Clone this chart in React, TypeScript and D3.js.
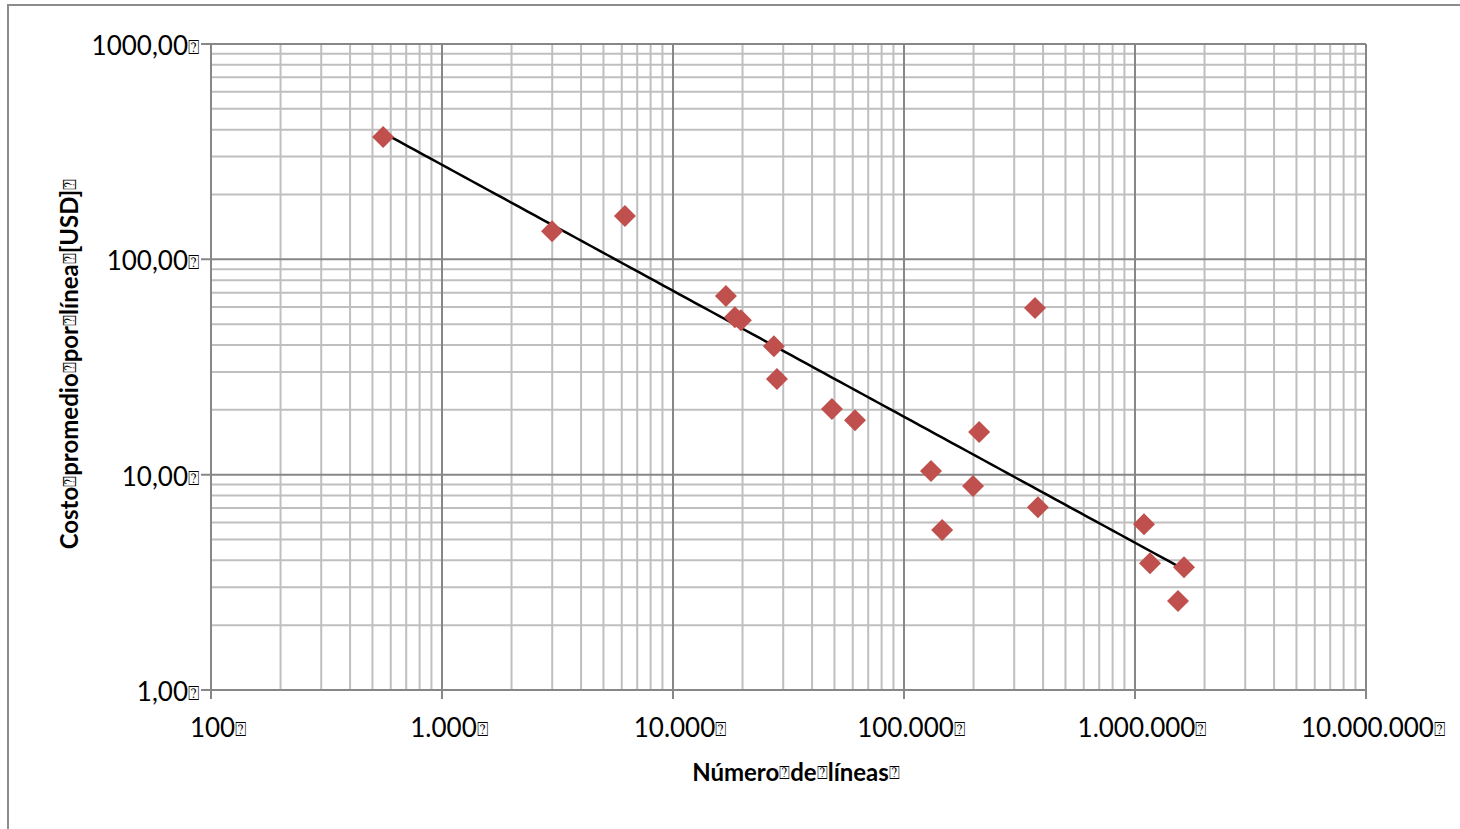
import React, { useEffect } from "react";
import * as d3 from "d3";

// ---- data ----
const lineCounts = [556, 2995, 6194, 16950, 18530, 19670, 27330, 28180, 48750, 61360, 130900, 146200, 199000, 211500, 369000, 380000, 1094000, 1161000, 1535000, 1630000];
const avgCost = [370, 135, 159, 67.6, 53.9, 52.2, 39.5, 27.8, 20.2, 17.9, 10.4, 5.53, 8.85, 15.8, 59.5, 7.06, 5.89, 3.88, 2.59, 3.72];
// power trend line y = a * x^b
const trendCoef = 15630;
const trendExp = -0.585;
const xTickValues = [100, 1000, 10000, 100000, 1000000, 10000000];
const yTickValues = [1, 10, 100, 1000];
const BOX = "\u2370";
const xTitleWords = ["Número", "de", "líneas"];
const yTitleWords = ["Costo", "promedio", "por", "línea", "[USD]"];

const W = 1460, H = 829;
const M = { left: 211, right: 1366, top: 44, bottom: 690 };
const FONT = "Lato, 'Open Sans', sans-serif";

const locale = d3.formatLocale({ decimal: ",", thousands: ".", grouping: [3], currency: ["", ""] });
const fmtX = locale.format(",d");
const fmtY = locale.format(".2f");

function Box({ size, dy }: { size: number; dy: number }) {
  return (
    <tspan fontFamily="'DejaVu Sans'" fontWeight="normal" fontSize={size} dy={dy}>
      {BOX}
    </tspan>
  );
}

export default function App() {
  useEffect(() => {
    document.body.style.margin = "0";
  }, []);

  const x = d3.scaleLog().domain([100, 10000000]).range([M.left, M.right]);
  const y = d3.scaleLog().domain([1, 1000]).range([M.bottom, M.top]);

  const minorX: number[] = [];
  for (let k = 2; k < 7; k++) for (let m = 2; m <= 9; m++) minorX.push(m * Math.pow(10, k));
  const minorY: number[] = [];
  for (let k = 0; k < 3; k++) for (let m = 2; m <= 9; m++) minorY.push(m * Math.pow(10, k));

  const xMin = d3.min(lineCounts) as number;
  const xMax = d3.max(lineCounts) as number;
  const trendPts: [number, number][] = d3.range(0, 101).map((i) => {
    const lv = Math.log10(xMin) + (i / 100) * (Math.log10(xMax) - Math.log10(xMin));
    const xv = Math.pow(10, lv);
    return [xv, trendCoef * Math.pow(xv, trendExp)];
  });
  const trendLine = d3.line<[number, number]>().x((d) => x(d[0])).y((d) => y(d[1]))(trendPts) || "";

  const diamond = (cx: number, cy: number, r: number) => `M${cx},${cy - r}L${cx + r},${cy}L${cx},${cy + r}L${cx - r},${cy}Z`;

  const minorColor = "#bfbfbf";
  const majorColor = "#878787";

  const titleParts = (words: string[], keyPrefix: string) =>
    words.map((w, i) => (
      <React.Fragment key={keyPrefix + i}>
        <tspan dy={i === 0 ? 0 : 2}>{w}</tspan>
        <Box size={18} dy={-2} />
      </React.Fragment>
    ));

  return (
    <svg width={W} height={H} style={{ display: "block", background: "#fff" }}>
      <rect x={8} y={5} width={1600} height={1000} fill="#fff" stroke="#8c8c8c" strokeWidth={2} />
      {/* minor gridlines */}
      {minorX.map((v, i) => (
        <line key={"mx" + i} x1={x(v)} x2={x(v)} y1={M.top} y2={M.bottom} stroke={minorColor} strokeWidth={2} />
      ))}
      {minorY.map((v, i) => (
        <line key={"my" + i} x1={M.left} x2={M.right} y1={y(v)} y2={y(v)} stroke={minorColor} strokeWidth={2} />
      ))}
      {/* major gridlines + ticks */}
      {xTickValues.map((v, i) => (
        <line key={"Mx" + i} x1={x(v)} x2={x(v)} y1={M.top} y2={M.bottom + 9} stroke={majorColor} strokeWidth={2} />
      ))}
      {yTickValues.map((v, i) => (
        <line key={"My" + i} x1={M.left - 10} x2={M.right} y1={y(v)} y2={y(v)} stroke={majorColor} strokeWidth={2} />
      ))}
      {/* tick labels */}
      {xTickValues.map((v, i) => (
        <text key={"xl" + i} x={x(v) + 7} y={737} textAnchor="middle" fontFamily={FONT} fontSize={26} fill="#000">
          {fmtX(v)}
          <Box size={19} dy={-1} />
        </text>
      ))}
      {yTickValues.map((v, i) => (
        <text key={"yl" + i} x={199} y={y(v) + 11} textAnchor="end" fontFamily={FONT} fontSize={26} fill="#000">
          {fmtY(v)}
          <Box size={19} dy={-1} />
        </text>
      ))}
      {/* trend line */}
      <path d={trendLine} fill="none" stroke="#000" strokeWidth={2.5} />
      {/* points */}
      {lineCounts.map((v, i) => (
        <path key={"p" + i} d={diamond(x(v), y(avgCost[i]), 11)} fill="#c0504d" />
      ))}
      {/* axis titles */}
      <text x={796} y={781} textAnchor="middle" fontFamily={FONT} fontSize={24} fontWeight="bold" fill="#000">
        {titleParts(xTitleWords, "xt")}
      </text>
      <text transform={`translate(78,${(M.top + M.bottom) / 2 - 3}) rotate(-90)`} textAnchor="middle" fontFamily={FONT} fontSize={24} fontWeight="bold" fill="#000">
        {titleParts(yTitleWords, "yt")}
      </text>
    </svg>
  );
}
